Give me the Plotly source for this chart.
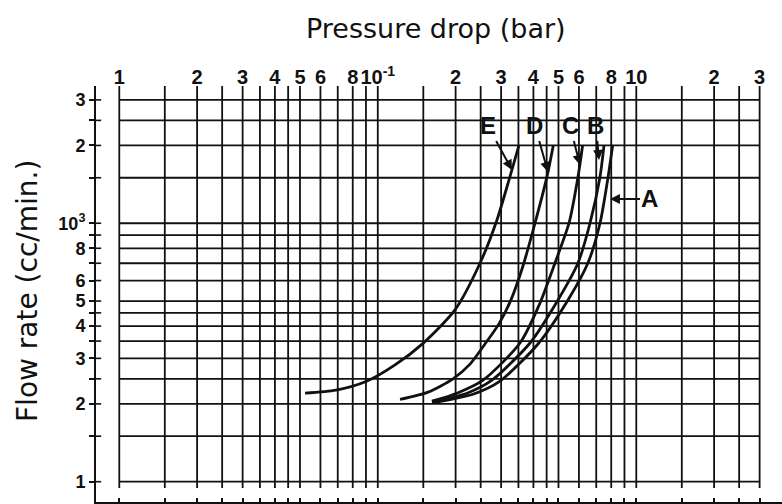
import numpy as np
import plotly.graph_objects as go

# ---------------- data (pressure drop in bar, flow rate in cc/min) ----------------
E_x = [0.0523, 0.0689, 0.0900, 0.1166, 0.1496, 0.1989, 0.2485, 0.2891, 0.3246, 0.3516]
E_y = [220, 226, 244, 283, 343, 462, 700, 1030, 1515, 2000]

D_x = [0.1219, 0.1564, 0.1954, 0.2274, 0.2598, 0.2943, 0.3275, 0.3644, 0.4056, 0.4513, 0.4774]
D_y = [208, 222, 250, 285, 341, 408, 505, 683, 1000, 1515, 2000]

C_x = [0.162, 0.2025, 0.2553, 0.3549, 0.424, 0.4847, 0.549, 0.5949, 0.6199]
C_y = [205, 220, 247, 344, 491, 702, 1000, 1511, 2000]

B_x = [0.162, 0.2214, 0.2765, 0.388, 0.4978, 0.595, 0.662, 0.7238, 0.75]
B_y = [203, 220, 247, 344, 505, 702, 1000, 1511, 2000]

A_x = [0.1635, 0.2335, 0.297, 0.4166, 0.5443, 0.65, 0.7238, 0.7780, 0.810]
A_y = [202, 218, 245, 341, 505, 702, 1000, 1511, 2000]

series_names = ["A", "B", "C", "D", "E"]

# label arrow tips (data coords)
label_tip_x = {"E": 0.3304, "D": 0.4554, "C": 0.6057, "B": 0.7173, "A": 0.791}
label_tip_y = {"E": 1608, "D": 1579, "C": 1681, "B": 1758, "A": 1242}

# grid / ticks
x_grid = [0.01, 0.015, 0.02, 0.025, 0.03, 0.035, 0.04, 0.045, 0.05, 0.06, 0.07, 0.08, 0.09,
          0.1, 0.15, 0.2, 0.25, 0.3, 0.35, 0.4, 0.45, 0.5, 0.6, 0.7, 0.8, 0.9,
          1, 1.5, 2, 2.5, 3]
y_grid = [100, 150, 200, 250, 300, 350, 400, 450, 500, 600, 700, 800, 900,
          1000, 1500, 2000, 2500, 3000]
x_tick_vals = [0.01, 0.02, 0.03, 0.04, 0.05, 0.06, 0.08, 0.1, 0.2, 0.3, 0.4, 0.5, 0.6, 0.8, 1, 2, 3]
x_tick_text = ["1", "2", "3", "4", "5", "6", "8", "10<sup>-1</sup>", "2", "3", "4", "5", "6", "8",
               "10", "2", "3"]
y_tick_vals = [100, 200, 300, 400, 500, 600, 800, 1000, 2000, 3000]
y_tick_text = ["1", "2", "3", "4", "5", "6", "8", "10<sup>3</sup>", "2", "3"]

# ---------------- layout constants ----------------
X_RANGE = [-2.0901, 0.5637]
Y_RANGE = [1.9214, 3.531]
INK = "#111111"
FONT = "Liberation Sans, Arial, sans-serif"

fig = go.Figure()

# grid lines
vx, vy = [], []
for v in x_grid:
    vx += [v, v, None]
    vy += [94.5, 4000, None]
fig.add_trace(go.Scatter(x=vx, y=vy, mode="lines", line=dict(color=INK, width=1.8),
                         hoverinfo="skip", showlegend=False))
hx, hy = [], []
for v in y_grid:
    hx += [x_grid[0], x_grid[-1], None]
    hy += [v, v, None]
fig.add_trace(go.Scatter(x=hx, y=hy, mode="lines", line=dict(color=INK, width=1.8),
                         hoverinfo="skip", showlegend=False))

# inner half of the crossing ticks on the left axis
tx, ty = [], []
for v in y_grid:
    tx += [10 ** X_RANGE[0], 10 ** (X_RANGE[0] + 0.02), None]
    ty += [v, v, None]
fig.add_trace(go.Scatter(x=tx, y=ty, mode="lines", line=dict(color=INK, width=1.6),
                         hoverinfo="skip", showlegend=False))

# curves
curves = {"A": (A_x, A_y), "B": (B_x, B_y), "C": (C_x, C_y), "D": (D_x, D_y), "E": (E_x, E_y)}
for name in series_names:
    cx, cy = curves[name]
    fig.add_trace(go.Scatter(x=cx, y=cy, mode="lines", name=name,
                             line=dict(color=INK, width=2.8, shape="spline", smoothing=0.7),
                             showlegend=False))

# dummy trace for top axis
fig.add_trace(go.Scatter(x=[0.1], y=[1000], xaxis="x2", mode="markers",
                         marker=dict(opacity=0), hoverinfo="skip", showlegend=False))

# labels with arrows
offsets = {"E": (-24, -44), "D": (-13, -46), "C": (-10, -39), "B": (-3, -34), "A": (40, 0)}
for name in series_names:
    ax, ay = offsets[name]
    fig.add_annotation(x=np.log10(label_tip_x[name]), y=np.log10(label_tip_y[name]),
                       xref="x", yref="y", text="<b>%s</b>" % name, showarrow=True,
                       ax=ax, ay=ay, arrowhead=2, arrowsize=1, arrowwidth=2, arrowcolor=INK,
                       font=dict(family=FONT, size=24, color=INK))

# axis titles
fig.add_annotation(x=(436 - 96) / 686, y=1 + (86 - 28) / 416, xref="paper", yref="paper",
                   text="Pressure drop (bar)", showarrow=False, xanchor="center", yanchor="middle",
                   font=dict(family="DejaVu Sans, sans-serif", size=27, color=INK))
fig.add_annotation(x=(27 - 96) / 686, y=1 - (291 - 86) / 416, xref="paper", yref="paper",
                   text="Flow rate (cc/min.)", showarrow=False, textangle=-90,
                   xanchor="center", yanchor="middle",
                   font=dict(family="DejaVu Sans, sans-serif", size=28, color=INK))

y_minor = [v for v in y_grid if v not in y_tick_vals]

fig.update_layout(
    width=782, height=504,
    margin=dict(l=96, r=0, t=86, b=2, autoexpand=False),
    paper_bgcolor="white", plot_bgcolor="white",
    xaxis=dict(type="log", range=X_RANGE, tickvals=x_grid, showticklabels=False,
               ticks="inside", ticklen=4, tickwidth=1.6, tickcolor=INK, automargin=False,
               showline=True, linecolor=INK, linewidth=2, showgrid=False, zeroline=False),
    xaxis2=dict(type="log", range=X_RANGE, overlaying="x", side="top", anchor="y",
                tickvals=x_tick_vals, ticktext=x_tick_text, ticks="", showline=False,
                showgrid=False, zeroline=False, automargin=False, ticklabelstandoff=-3,
                tickfont=dict(family=FONT, size=20, color=INK, weight="bold")),
    yaxis=dict(type="log", range=Y_RANGE, tickvals=y_tick_vals, ticktext=y_tick_text,
               ticks="outside", ticklen=5, tickwidth=1.6, tickcolor=INK, automargin=False,
               minor=dict(tickmode="array", tickvals=y_minor, ticks="outside", ticklen=5,
                          tickwidth=1.6, tickcolor=INK, showgrid=False),
               showline=True, linecolor=INK, linewidth=2, showgrid=False, zeroline=False,
               tickfont=dict(family=FONT, size=18, color=INK, weight="bold")),
)

fig.write_html("out.html", post_script="document.body.style.margin='0';",
               config={"displayModeBar": False})
